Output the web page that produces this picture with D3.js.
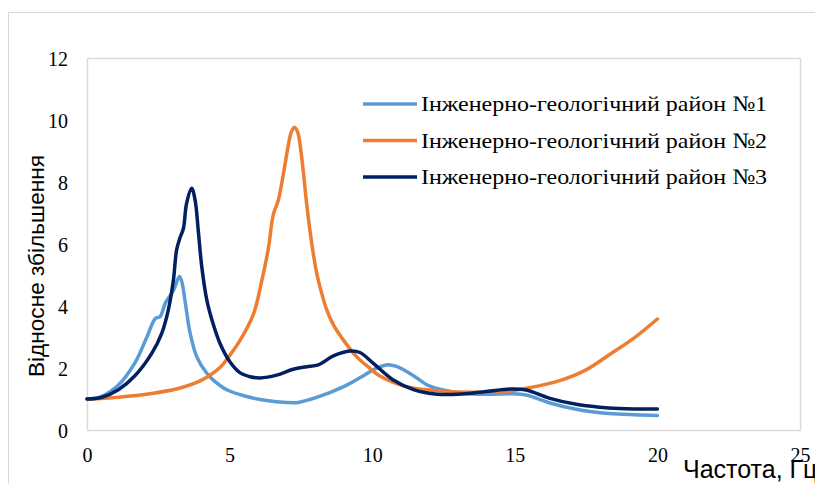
<!DOCTYPE html>
<html>
<head>
<meta charset="utf-8">
<script src="https://cdn.jsdelivr.net/npm/d3@7"></script>
<style>
  html, body { margin: 0; padding: 0; background: #fff; }
  svg { display: block; }
</style>
</head>
<body>
<svg id="chart" width="815" height="484"></svg>
<script>
// Frequency response: relative amplification vs frequency for three districts
const seriesNames = [
  "Інженерно-геологічний район №1",
  "Інженерно-геологічний район №2",
  "Інженерно-геологічний район №3"
];
const seriesColors = ["#5b9bd5", "#ed7d31", "#002060"];

const freq1 = [0, 0.5, 1.1, 1.7, 2.1, 2.4, 2.56, 2.75, 3.03, 3.24, 3.32, 3.44, 3.61, 3.85, 4.2, 4.43, 4.9, 5.6, 6.3, 7.0, 7.4, 8.05, 9.0, 9.6, 10.05, 10.5, 10.85, 11.45, 12.0, 12.9, 14.0, 14.9, 15.4, 16.2, 17.2, 18.3, 19.2, 20];
const amp1  = [1.0, 1.08, 1.45, 2.2, 3.0, 3.6, 3.65, 4.1, 4.5, 4.95, 4.8, 4.15, 3.15, 2.36, 1.83, 1.61, 1.3, 1.08, 0.95, 0.89, 0.89, 1.05, 1.4, 1.7, 1.95, 2.1, 2.05, 1.75, 1.42, 1.22, 1.15, 1.17, 1.13, 0.88, 0.66, 0.53, 0.49, 0.47];

const freq2 = [0, 1.1, 2.27, 3.2, 4.0, 4.7, 5.0, 5.36, 5.83, 6.12, 6.36, 6.53, 6.71, 6.88, 7.06, 7.16, 7.27, 7.39, 7.5, 7.6, 7.7, 7.82, 7.93, 8.05, 8.23, 8.4, 8.64, 8.99, 9.46, 9.92, 10.27, 11.2, 12.4, 13.5, 14.8, 15.5, 16.6, 17.5, 18.3, 19.2, 20];
const amp2  = [1.0, 1.06, 1.18, 1.34, 1.6, 2.05, 2.4, 2.88, 3.72, 4.78, 5.86, 6.94, 7.42, 8.23, 9.19, 9.6, 9.77, 9.6, 9.0, 8.2, 7.31, 6.42, 5.72, 5.08, 4.41, 3.89, 3.39, 2.9, 2.36, 1.99, 1.74, 1.4, 1.26, 1.22, 1.26, 1.36, 1.6, 1.94, 2.42, 2.98, 3.58];

const freq3 = [0, 0.5, 1.1, 1.68, 2.27, 2.62, 2.85, 3.03, 3.14, 3.26, 3.38, 3.49, 3.67, 3.79, 3.9, 4.02, 4.2, 4.43, 4.66, 5.01, 5.36, 5.72, 6.07, 6.65, 7.23, 7.7, 8.11, 8.64, 9.22, 9.57, 10.04, 10.74, 11.45, 12.2, 13.0, 14.0, 14.85, 15.4, 16.2, 17.2, 18.3, 19.2, 20];
const amp3  = [1.0, 1.05, 1.3, 1.75, 2.47, 3.12, 3.87, 4.84, 5.8, 6.2, 6.5, 7.3, 7.8, 7.42, 6.45, 5.3, 4.2, 3.4, 2.8, 2.2, 1.85, 1.72, 1.68, 1.77, 1.96, 2.04, 2.1, 2.39, 2.55, 2.5, 2.15, 1.61, 1.3, 1.16, 1.15, 1.24, 1.32, 1.29, 1.03, 0.82, 0.71, 0.68, 0.68];

const xTicks = [0, 5, 10, 15, 20, 25];
const yTicks = [0, 2, 4, 6, 8, 10, 12];
const xTitle = "Частота, Гц";
const yTitle = "Відносне збільшення";

const series = [
  { name: seriesNames[0], color: seriesColors[0], points: freq1.map((f, i) => [f, amp1[i]]) },
  { name: seriesNames[1], color: seriesColors[1], points: freq2.map((f, i) => [f, amp2[i]]) },
  { name: seriesNames[2], color: seriesColors[2], points: freq3.map((f, i) => [f, amp3[i]]) }
];

const svg = d3.select("#chart");
const plot = { left: 87, right: 800, top: 58, bottom: 430 };

const x = d3.scaleLinear().domain([0, 25]).range([plot.left, plot.right]);
const y = d3.scaleLinear().domain([0, 12]).range([plot.bottom, plot.top]);

// outer chart frame
svg.append("rect")
  .attr("x", 8.5).attr("y", 12.5)
  .attr("width", 830).attr("height", 500)
  .attr("fill", "none").attr("stroke", "#d9d9d9").attr("stroke-width", 1);

// plot area frame
svg.append("rect")
  .attr("x", plot.left + 0.5).attr("y", plot.top + 0.5)
  .attr("width", plot.right - plot.left).attr("height", plot.bottom - plot.top)
  .attr("fill", "none").attr("stroke", "#d9d9d9").attr("stroke-width", 1.5);

const serif = "'Liberation Serif', 'Times New Roman', serif";
const sans = "'Liberation Sans', Arial, sans-serif";

// axes (labels only, frame drawn above)
const yAxis = svg.append("g")
  .attr("transform", `translate(${plot.left},0)`)
  .call(d3.axisLeft(y).tickValues(yTicks).tickSize(0).tickPadding(19).tickFormat(d3.format("d")));
yAxis.select(".domain").remove();
yAxis.selectAll("text")
  .attr("font-family", serif).attr("font-size", 20).attr("fill", "#000")
  .attr("dy", "0.35em");

const xAxis = svg.append("g")
  .attr("transform", `translate(0,${plot.bottom})`)
  .call(d3.axisBottom(x).tickValues(xTicks).tickSize(0).tickPadding(18).tickFormat(d3.format("d")));
xAxis.select(".domain").remove();
xAxis.selectAll("text")
  .attr("font-family", serif).attr("font-size", 20).attr("fill", "#000")
  .attr("dy", "0.71em");

// series lines, smoothed through the sampled points
const line = d3.line()
  .x(d => x(d[0]))
  .y(d => y(d[1]))
  .curve(d3.curveCatmullRom.alpha(0.5));

svg.append("g").selectAll("path")
  .data(series)
  .join("path")
  .attr("d", d => line(d.points))
  .attr("fill", "none")
  .attr("stroke", d => d.color)
  .attr("stroke-width", 3.5)
  .attr("stroke-linejoin", "round")
  .attr("stroke-linecap", "round");

// legend
const legend = svg.append("g").attr("transform", "translate(363,104)");
const legendItems = legend.selectAll("g")
  .data(series)
  .join("g")
  .attr("transform", (d, i) => `translate(0,${i * 36.5})`);
legendItems.append("line")
  .attr("x1", 0).attr("x2", 54).attr("y1", 0).attr("y2", 0)
  .attr("stroke", d => d.color).attr("stroke-width", 3.5);
legendItems.append("text")
  .attr("x", 58).attr("y", 0).attr("dy", "0.33em")
  .attr("font-family", serif).attr("font-size", 22).attr("fill", "#000")
  .attr("textLength", 346).attr("lengthAdjust", "spacingAndGlyphs")
  .text(d => d.name);

// axis titles
svg.append("text")
  .attr("transform", "translate(44,266) rotate(-90)")
  .attr("text-anchor", "middle")
  .attr("font-family", sans).attr("font-size", 22).attr("fill", "#000")
  .attr("textLength", 222).attr("lengthAdjust", "spacingAndGlyphs")
  .text(yTitle);

svg.append("text")
  .attr("x", 683).attr("y", 478)
  .attr("font-family", sans).attr("font-size", 25).attr("fill", "#000")
  .text(xTitle);
</script>
</body>
</html>
